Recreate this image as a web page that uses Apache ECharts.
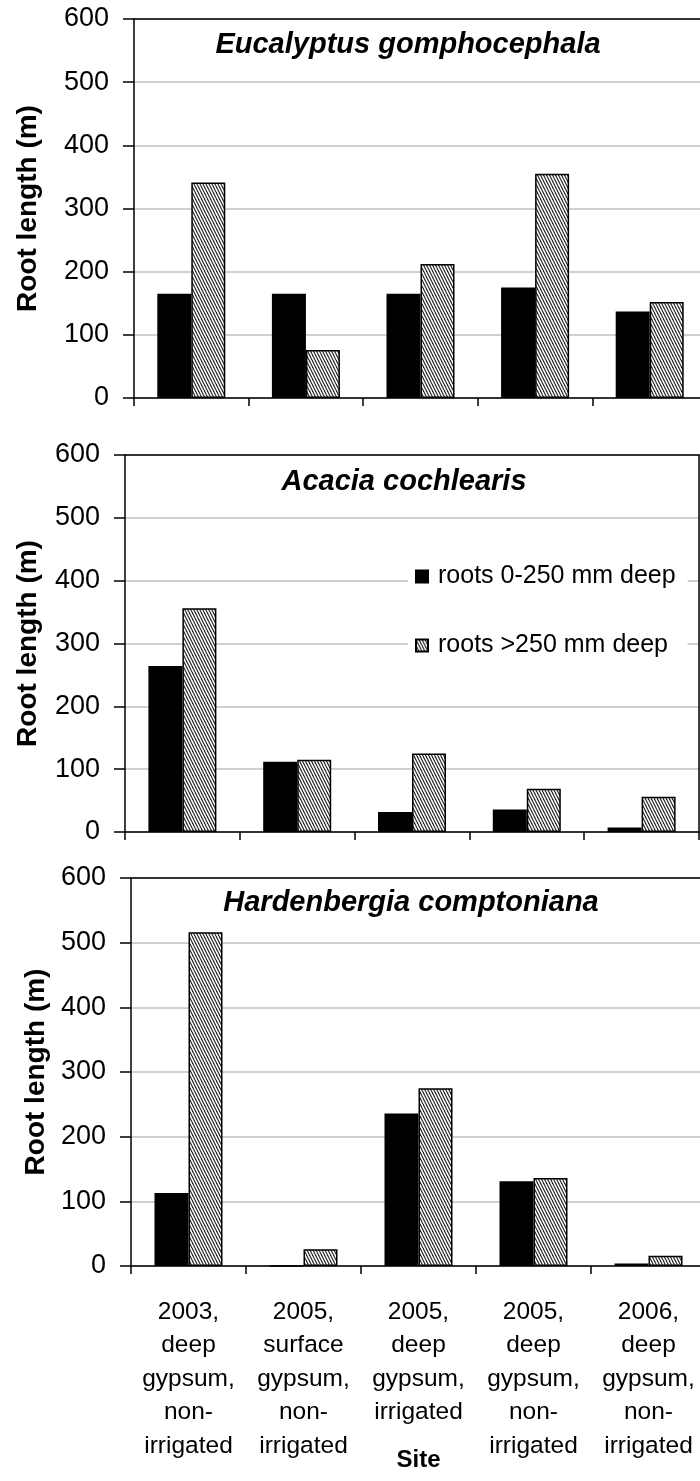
<!DOCTYPE html>
<html>
<head>
<meta charset="utf-8">
<script src="https://cdn.jsdelivr.net/npm/echarts@6/dist/echarts.min.js"></script>
<style>
html,body{margin:0;padding:0;background:#fff;}
#chart{width:700px;height:1481px;}
</style>
</head>
<body>
<div id="chart"></div>
<script>
// ---- data ----
var categories = [
  '2003,\ndeep\ngypsum,\nnon-\nirrigated',
  '2005,\nsurface\ngypsum,\nnon-\nirrigated',
  '2005,\ndeep\ngypsum,\nirrigated',
  '2005,\ndeep\ngypsum,\nnon-\nirrigated',
  '2006,\ndeep\ngypsum,\nnon-\nirrigated'
];
var seriesNames = ['roots 0-250 mm deep', 'roots >250 mm deep'];
var panelTitles = ['Eucalyptus gomphocephala', 'Acacia cochlearis', 'Hardenbergia comptoniana'];
var eucShallow = [165, 165, 165, 175, 137];
var eucDeep    = [341, 76, 212, 355, 152];
var acaShallow = [264, 112, 32, 36, 7];
var acaDeep    = [356, 115, 125, 69, 56];
var harShallow = [113, 0, 236, 131, 4];
var harDeep    = [516, 26, 275, 136, 16];
var yTicks = [0, 100, 200, 300, 400, 500, 600];

// ---- hatch pattern ----
var tile = document.createElement('canvas');
tile.width = 3; tile.height = 6;
var ctx = tile.getContext('2d');
ctx.fillStyle = '#ffffff';
ctx.fillRect(0, 0, 3, 6);
ctx.strokeStyle = '#222222';
ctx.lineWidth = 1.2;
[-3, 0, 3].forEach(function (dx) {
  ctx.beginPath();
  ctx.moveTo(dx, 0);
  ctx.lineTo(dx + 3, 6);
  ctx.stroke();
});
var hatch = { image: tile, repeat: 'repeat' };

var FONT = "'Liberation Sans', Arial, Helvetica, sans-serif";
var grids = [
  { left: 134, top: 19, width: 573, height: 379, outerBoundsMode: 'none', containLabel: false },
  { left: 125, top: 455, width: 574, height: 377, outerBoundsMode: 'none', containLabel: false },
  { left: 131, top: 878, width: 575, height: 388, outerBoundsMode: 'none', containLabel: false }
];
var titleCenters = [[408, 30], [404, 467], [411, 888]];
var nameGaps = [92, 83, 81];
var panels = [[eucShallow, eucDeep], [acaShallow, acaDeep], [harShallow, harDeep]];

var xAxes = [], yAxes = [], series = [], titles = [];
grids.forEach(function (g, i) {
  xAxes.push({
    type: 'category', gridIndex: i, data: categories, position: 'bottom',
    boundaryGap: true,
    axisLine: { lineStyle: { color: '#000', width: 1.5 } },
    axisTick: { show: true, inside: false, length: 8, lineStyle: { color: '#000', width: 1.5 }, alignWithLabel: false },
    axisLabel: {
      show: i === 2, interval: 0, fontFamily: FONT, fontSize: 24.5, color: '#000',
      lineHeight: 33.5, margin: 29
    },
    name: i === 2 ? 'Site' : '', nameLocation: 'middle', nameGap: 182, nameMoveOverlap: false,
    nameTextStyle: { fontFamily: FONT, fontSize: 24, fontWeight: 'bold', color: '#000' },
    splitLine: { show: false }
  });
  yAxes.push({
    type: 'value', gridIndex: i, min: yTicks[0], max: yTicks[yTicks.length - 1], interval: 100,
    axisLine: { show: true, lineStyle: { color: '#000', width: 1.5 } },
    axisTick: { show: true, inside: false, length: 11, lineStyle: { color: '#000', width: 1.5 } },
    axisLabel: { fontFamily: FONT, fontSize: 27, color: '#000', margin: 25 },
    splitLine: { show: true, lineStyle: { color: '#c0c0c0', width: 1.5 } },
    name: 'Root length (m)', nameLocation: 'middle', nameGap: nameGaps[i], nameMoveOverlap: false,
    nameTextStyle: { fontFamily: FONT, fontSize: 28, fontWeight: 'bold', color: '#000' }
  });
  titles.push({
    text: panelTitles[i], left: titleCenters[i][0], top: titleCenters[i][1], textAlign: 'center', padding: 0,
    textStyle: { fontFamily: FONT, fontSize: 29, fontWeight: 'bold', fontStyle: 'italic', color: '#000' }
  });
  panels[i].forEach(function (vals, k) {
    series.push({
      type: 'bar', name: seriesNames[k], xAxisIndex: i, yAxisIndex: i, data: vals,
      barWidth: 34, barGap: '0%',
      itemStyle: { color: k === 0 ? '#000' : hatch, borderColor: '#000', borderWidth: 1.5 },
      emphasis: { disabled: true }, animation: false
    });
  });
});
// frame lines: top and right of each plot area
grids.forEach(function (g, i) {
  xAxes.push({
    type: 'value', gridIndex: i, position: 'top', min: 0, max: 1,
    axisLine: { show: true, onZero: false, lineStyle: { color: '#000', width: 1.5 } },
    axisTick: { show: false }, axisLabel: { show: false }, splitLine: { show: false }
  });
  yAxes.push({
    type: 'value', gridIndex: i, position: 'right', min: 0, max: 1,
    axisLine: { show: true, onZero: false, lineStyle: { color: '#000', width: 1.5 } },
    axisTick: { show: false }, axisLabel: { show: false }, splitLine: { show: false }
  });
});

var chart = echarts.init(document.getElementById('chart'), null, { renderer: 'canvas' });
chart.setOption({
  animation: false,
  backgroundColor: '#fff',
  title: titles,
  grid: grids,
  xAxis: xAxes,
  yAxis: yAxes,
  legend: {
    data: seriesNames, orient: 'vertical', left: 408, top: 556,
    backgroundColor: '#fff', padding: [8, 12, 8, 7],
    itemWidth: 12, itemHeight: 12, itemGap: 44, icon: 'rect',
    textStyle: { fontFamily: FONT, fontSize: 25, color: '#000', padding: [0, 0, 0, 5] },
    selectedMode: false
  },
  series: series
});
</script>
</body>
</html>
